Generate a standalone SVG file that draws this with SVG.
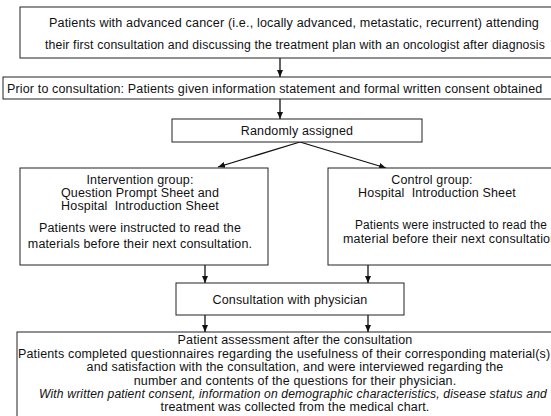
<svg xmlns="http://www.w3.org/2000/svg" width="551" height="416" viewBox="0 0 551 416">
<defs>
<marker id="ah" markerWidth="8" markerHeight="8" refX="7" refY="4" orient="auto" markerUnits="userSpaceOnUse">
<path d="M0,1 L7,4 L0,7 Z" fill="#111"/>
</marker>
<style>
.box{fill:#fff;stroke:#222;stroke-width:1}
text{font-family:"Liberation Sans",Arial,sans-serif;font-size:12.5px;letter-spacing:0.15px;fill:#111}
.c{text-anchor:middle}
.it{font-style:italic}
.pre{white-space:pre}
.ln{stroke:#111;stroke-width:1.3;fill:none;marker-end:url(#ah)}
</style>
</defs>
<rect width="551" height="416" fill="#fff"/>
<g id="connectors">
<line class="ln" x1="280" y1="58" x2="280" y2="77"/>
<line class="ln" x1="280" y1="99" x2="280" y2="119"/>
<line class="ln" x1="300" y1="142" x2="218" y2="167"/>
<line class="ln" x1="300" y1="142" x2="386" y2="168"/>
<line class="ln" x1="205" y1="265" x2="205" y2="283"/>
<line class="ln" x1="368" y1="265" x2="368" y2="283"/>
<line class="ln" x1="205" y1="315" x2="205" y2="332"/>
<line class="ln" x1="368" y1="315" x2="368" y2="332"/>
</g>
<g id="n1">
<rect class="box" x="20" y="7" width="550" height="51"/>
<text class="c" x="294" y="27" textLength="490" lengthAdjust="spacingAndGlyphs">Patients with advanced cancer (i.e., locally advanced, metastatic, recurrent) attending</text>
<text class="c" x="295" y="49" textLength="500" lengthAdjust="spacingAndGlyphs">their first consultation and discussing the treatment plan with an oncologist after diagnosis</text>
</g>
<g id="n2">
<rect class="box" x="3" y="77" width="560" height="22"/>
<text x="7" y="93">Prior to consultation: Patients given information statement and formal written consent obtained</text>
</g>
<g id="n3">
<rect class="box" x="172" y="119" width="250" height="23"/>
<text class="c" x="297" y="135">Randomly assigned</text>
</g>
<g id="n4">
<rect class="box" x="20" y="168" width="248" height="97"/>
<text class="c" x="140" y="184">Intervention group:</text>
<text class="c" x="140" y="197">Question Prompt Sheet and</text>
<text class="c pre" x="140" y="210">Hospital  Introduction Sheet</text>
<text class="c" x="140" y="232">Patients were instructed to read the</text>
<text class="c" x="140" y="248">materials before their next consultation.</text>
</g>
<g id="n5">
<rect class="box" x="328" y="168" width="240" height="97"/>
<text class="c" x="432" y="184">Control group:</text>
<text class="c pre" x="437" y="197">Hospital  Introduction Sheet</text>
<text class="c" x="451" y="229" textLength="192" lengthAdjust="spacingAndGlyphs">Patients were instructed to read the</text>
<text class="c" x="452" y="243">material before their next consultation.</text>
</g>
<g id="n6">
<rect class="box" x="176" y="283" width="228" height="32"/>
<text class="c" x="290" y="304">Consultation with physician</text>
</g>
<g id="n7">
<rect class="box" x="17" y="332" width="560" height="100"/>
<text class="c" x="295" y="344">Patient assessment after the consultation</text>
<text x="18" y="358">Patients completed questionnaires regarding the usefulness of their corresponding material(s)</text>
<text class="c" x="295" y="371">and satisfaction with the consultation, and were interviewed regarding the</text>
<text class="c" x="295" y="385">number and contents of the questions for their physician.</text>
<text class="c it" x="293" y="398" textLength="508" lengthAdjust="spacingAndGlyphs">With written patient consent, information on demographic characteristics, disease status and</text>
<text class="c" x="295" y="411">treatment was collected from the medical chart.</text>
</g>
</svg>
